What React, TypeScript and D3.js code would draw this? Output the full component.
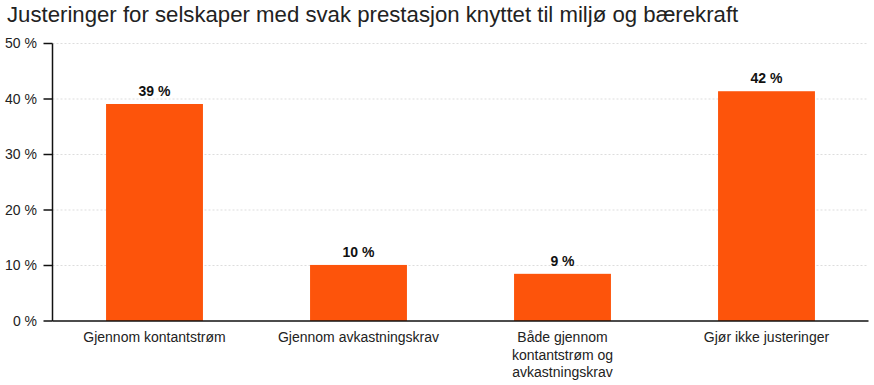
import React from "react";
import * as d3 from "d3";

// data
const categories = [
  "Gjennom kontantstrøm",
  "Gjennom avkastningskrav",
  "Både gjennom\nkontantstrøm og\navkastningskrav",
  "Gjør ikke justeringer",
];
const values = [39.1, 10.1, 8.5, 41.4];
const valueLabels = ["39 %", "10 %", "9 %", "42 %"];
const yTicks = [0, 10, 20, 30, 40, 50];

const title = "Justeringer for selskaper med svak prestasjon knyttet til miljø og bærekraft";

const width = 874;
const height = 385;
const left = 52.5;
const right = 868.5;
const top = 43.5;
const bottom = 321;
const barColor = "#fd540b";
const font = "'Liberation Sans', Arial, Helvetica, sans-serif";

const App = () => {
  const x = d3
    .scaleBand()
    .domain(categories)
    .range([left, right])
    .paddingInner(0.525)
    .paddingOuter(0.2625);

  const y = d3.scaleLinear().domain([0, 50]).range([bottom, top]);

  return (
    <svg
      width={width}
      height={height}
      style={{ position: "absolute", left: 0, top: 0, background: "#fff" }}
      fontFamily={font}
    >
      <text x={7} y={22} fontSize={22.2} fill="#222">
        {title}
      </text>

      {/* gridlines */}
      {yTicks
        .filter((t) => t > 0)
        .map((t) => (
          <line
            key={"g" + t}
            x1={left}
            x2={right}
            y1={y(t)}
            y2={y(t)}
            stroke="#ddd"
            strokeDasharray="2,2"
          />
        ))}

      {/* bars */}
      {values.map((v, i) => (
        <rect
          key={"b" + i}
          x={x(categories[i])}
          y={y(v)}
          width={x.bandwidth()}
          height={bottom - y(v)}
          fill={barColor}
        />
      ))}

      {/* value labels */}
      {values.map((v, i) => (
        <text
          key={"v" + i}
          x={(x(categories[i]) || 0) + x.bandwidth() / 2}
          y={y(v) - 8}
          textAnchor="middle"
          fontSize={14}
          fontWeight="bold"
          fill="#111"
        >
          {valueLabels[i]}
        </text>
      ))}

      {/* y axis */}
      <line x1={left} x2={left} y1={top} y2={bottom} stroke="#111" strokeWidth={1.5} />
      {yTicks.map((t) => (
        <g key={"t" + t} transform={`translate(0,${y(t)})`}>
          <line x1={left - 9} x2={left} stroke="#111" strokeWidth={1.5} />
          <text x={37} dy="0.35em" textAnchor="end" fontSize={14} fill="#222">
            {t + " %"}
          </text>
        </g>
      ))}

      {/* x axis */}
      <line x1={left} x2={right} y1={bottom} y2={bottom} stroke="#111" strokeWidth={1.5} />
      {categories.map((c) => (
        <text
          key={c}
          x={(x(c) || 0) + x.bandwidth() / 2}
          y={342}
          textAnchor="middle"
          fontSize={14}
          fill="#222"
        >
          {c.split("\n").map((line, j) => (
            <tspan key={j} x={(x(c) || 0) + x.bandwidth() / 2} dy={j === 0 ? 0 : 17.5}>
              {line}
            </tspan>
          ))}
        </text>
      ))}
    </svg>
  );
};

export default App;
